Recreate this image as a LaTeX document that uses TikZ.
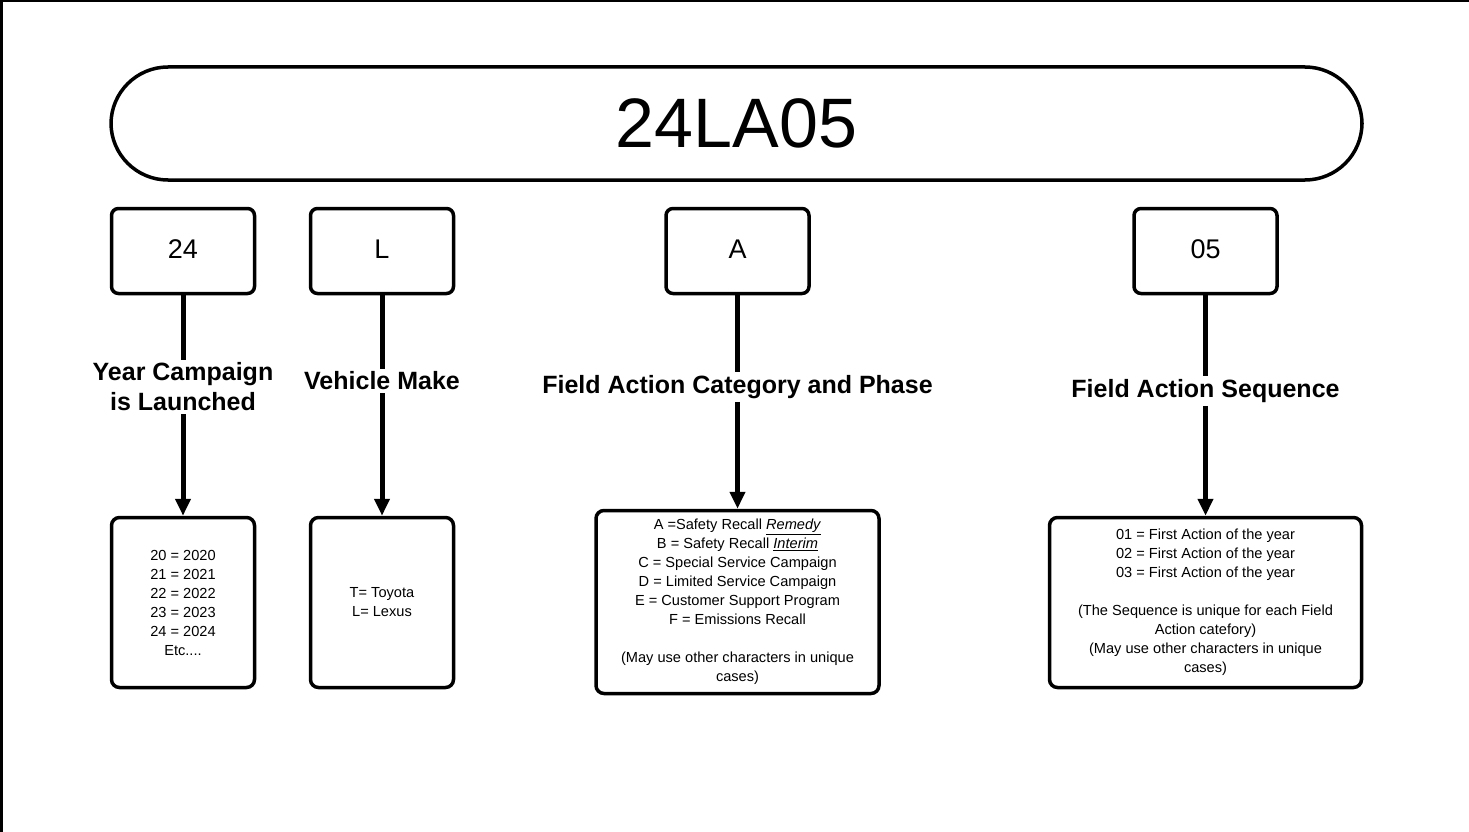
\documentclass[tikz,border=0pt]{standalone}
\usepackage{fontspec}
\setmainfont{Liberation Sans}
\usetikzlibrary{arrows.meta}
\begin{document}
\begin{tikzpicture}[x=1pt,y=-1pt,
  frame/.style={line width=2.5pt},
  pill/.style={draw,line width=3.5pt,rounded corners=57pt,minimum width=1251pt,minimum height=113pt,inner sep=0pt,font=\fontsize{70}{70}\selectfont},
  topbox/.style={draw,line width=3.5pt,rounded corners=7pt,minimum width=143pt,minimum height=85pt,inner sep=0pt,font=\fontsize{27}{30}\selectfont},
  infobox/.style={draw,line width=3.5pt,rounded corners=8pt,inner sep=0pt,align=center,font=\fontsize{14.6}{19}\selectfont},
  lab/.style={align=center,inner sep=3pt,font=\bfseries\fontsize{25}{30}\selectfont},
  conn/.style={line width=5pt},
  arr/.style={line width=5pt,-{Triangle[length=17pt,width=15pt]}}
]
\useasboundingbox (0,0) rectangle (1469,832);
\draw[frame] (0,1) -- (1469,1);
\draw[frame] (1.5,0) -- (1.5,832);

\node[pill] (code) at (736.5,123.5) {24LA05};

\node[topbox] (t1) at (183,251) {\raisebox{4pt}{24}};
\node[topbox] (t2) at (382,251) {\raisebox{4pt}{L}};
\node[topbox] (t3) at (737.5,251) {\raisebox{4pt}{A}};
\node[topbox] (t4) at (1205.5,251) {\raisebox{4pt}{05}};

\node[lab] (l1) at (183,387) {Year Campaign\\is Launched};
\node[lab] (l2) at (382,381) {Vehicle Make};
\node[lab] (l3) at (737.5,387) {Field Action Category and Phase};
\node[lab] (l4) at (1205.5,391) {Field Action Sequence};

\node[infobox,minimum width=143pt,minimum height=170pt] (b1) at (183,602.5)
  {20 = 2020\\21 = 2021\\22 = 2022\\23 = 2023\\24 = 2024\\Etc....};
\node[infobox,minimum width=143pt,minimum height=170pt] (b2) at (382,602.5)
  {T= Toyota\\L= Lexus};
\node[infobox,minimum width=283pt,minimum height=183pt] (b3) at (737.5,602)
  {A =Safety Recall \underline{\textit{Remedy}}\\
   B = Safety Recall \underline{\textit{Interim}}\\
   C = Special Service Campaign\\
   D = Limited Service Campaign\\
   E = Customer Support Program\\
   F = Emissions Recall\\[19pt]
   (May use other characters in unique\\cases)};
\node[infobox,minimum width=312pt,minimum height=170pt] (b4) at (1205.5,602.5)
  {01 = First Action of the year\\
   02 = First Action of the year\\
   03 = First Action of the year\\[19pt]
   (The Sequence is unique for each Field\\
   Action catefory)\\
   (May use other characters in unique\\cases)};

\draw[conn] (t1.south) -- (l1.north);
\draw[arr] (l1.south) -- (b1.north);
\draw[conn] (t2.south) -- (l2.north);
\draw[arr] (l2.south) -- (b2.north);
\draw[conn] (t3.south) -- (l3.north);
\draw[arr] (l3.south) -- (b3.north);
\draw[conn] (t4.south) -- (l4.north);
\draw[arr] (l4.south) -- (b4.north);
\end{tikzpicture}
\end{document}
